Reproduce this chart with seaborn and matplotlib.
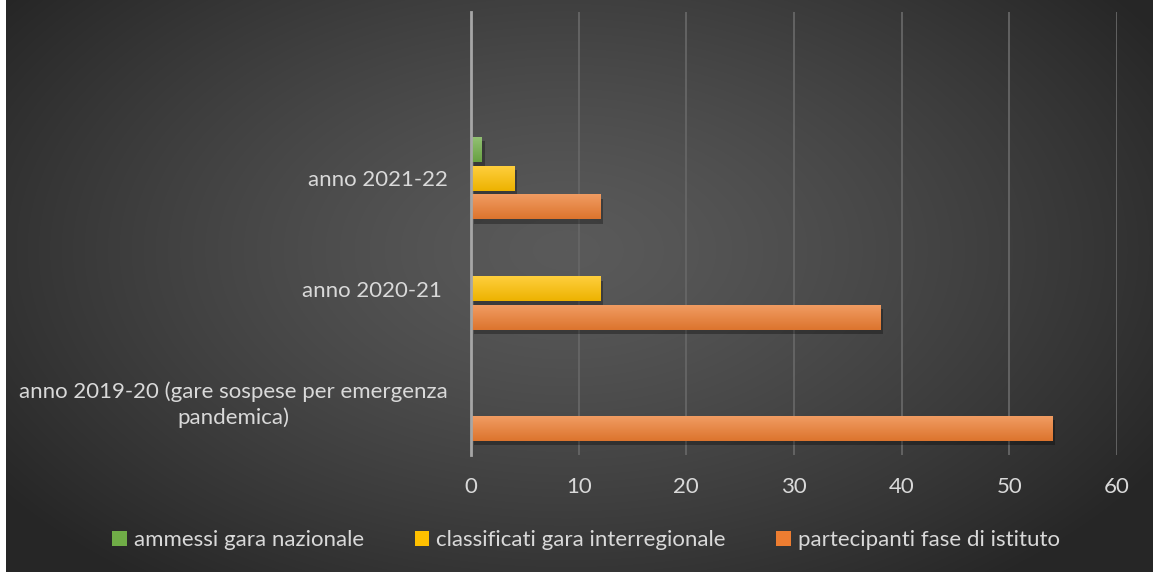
import numpy as np
import pandas as pd
import matplotlib
matplotlib.use("Agg")
import matplotlib.pyplot as plt
import matplotlib.patheffects as pe
from matplotlib.patches import Patch
import seaborn as sns

categories = ["anno 2021-22", "anno 2020-21 ", "anno 2019-20 (gare sospese per emergenza\npandemica)"]
series = ["ammessi gara nazionale", "classificati gara interregionale", "partecipanti fase di istituto"]
ammessi = [1, 0, 0]
classificati = [4, 12, 0]
partecipanti = [12, 38, 54]
colors = ["#70AD47", "#FFC000", "#ED7D31"]
xticks = [0, 10, 20, 30, 40, 50, 60]

rows = []
for s, vals in zip(series, [ammessi, classificati, partecipanti]):
    for c, v in zip(categories, vals):
        rows.append({"categoria": c, "serie": s, "valore": v})
df = pd.DataFrame(rows)

sns.set_theme(style="white")
plt.rcParams["font.family"] = ["Lato", "DejaVu Sans"]
txt = "#d9d9d9"
FS = 16

fig = plt.figure(figsize=(11.53, 5.72), dpi=100)
fig.patch.set_facecolor("white")

# background gradient
bg = fig.add_axes([6 / 1153, 0, 1 - 6 / 1153, 1])
W, H = 1147, 572
yy, xx = np.mgrid[0:H, 0:W]
r = np.sqrt(((xx - 560) / 700.0) ** 2 + ((yy - 250) / 420.0) ** 2)
r = np.clip(r, 0, 1)
val = 0x5a - (0x5a - 0x26) * r ** 1.3
img = np.dstack([val, val, val]) / 255.0
bg.imshow(img, aspect="auto", extent=[0, 1, 0, 1], origin="upper")
bg.axis("off")

ax = fig.add_axes([471 / 1153, 1 - 455 / 572, (1117 - 471) / 1153, (455 - 12) / 572])
ax.patch.set_alpha(0)
sns.barplot(data=df, y="categoria", x="valore", hue="serie", order=categories,
            hue_order=series, palette=colors, orient="h", width=0.78, gap=0.13,
            ax=ax, legend=False, saturation=1, linewidth=0, edgecolor="none")

ax.set_xlim(0, 60)
ax.set_ylim(2.5, -1.5)
ax.set_xticks(xticks)
ax.set_xticklabels([str(t) for t in xticks])
ax.set_xlabel("")
ax.set_ylabel("")
for s in ["top", "right", "bottom"]:
    ax.spines[s].set_visible(False)
ax.spines["left"].set_color("#a6a6a6")
ax.spines["left"].set_linewidth(2)
ax.spines["left"].set_zorder(5)
ax.grid(axis="x", color="#666666", linewidth=1.3)
ax.grid(axis="y", visible=False)
ax.set_axisbelow(True)
ax.tick_params(axis="x", colors=txt, labelsize=FS, length=0, pad=16)
ax.tick_params(axis="y", colors=txt, labelsize=FS, length=0, pad=17)
for lab in ax.get_yticklabels():
    lab.set_multialignment("center")
    lab.set_linespacing(1.35)

# gradient and shadow on bars
for p in list(ax.patches):
    w = p.get_width()
    if w <= 0:
        continue
    p.set_path_effects([pe.SimplePatchShadow(offset=(2, -3), shadow_rgbFace="black", alpha=0.3), pe.Normal()])
    x0, y0 = p.get_x(), p.get_y()
    h = p.get_height()
    base = np.array(matplotlib.colors.to_rgb(p.get_facecolor()))
    light = base + (1 - base) * 0.25
    dark = base * 0.93
    t = np.linspace(0, 1, 50)[:, None]
    grad = light[None, :] * (1 - t) + dark[None, :] * t
    grad = grad[:, None, :]
    im = ax.imshow(grad, extent=[x0, x0 + w, y0 + h, y0], aspect="auto",
                   origin="upper", zorder=p.get_zorder() + 0.1)
    im.set_clip_path(p)
ax.set_xlim(0, 60)
ax.set_ylim(2.5, -1.5)

handles = [Patch(facecolor=c, edgecolor="none") for c in colors]
leg = fig.legend(handles, series, loc="center", bbox_to_anchor=(586 / 1153, 1 - 540 / 572),
                 ncol=3, frameon=False, fontsize=FS, handlelength=0.65, handleheight=0.65,
                 handletextpad=0.3, columnspacing=2.3)
for t_ in leg.get_texts():
    t_.set_color(txt)

fig.savefig("out.png", dpi=100)
